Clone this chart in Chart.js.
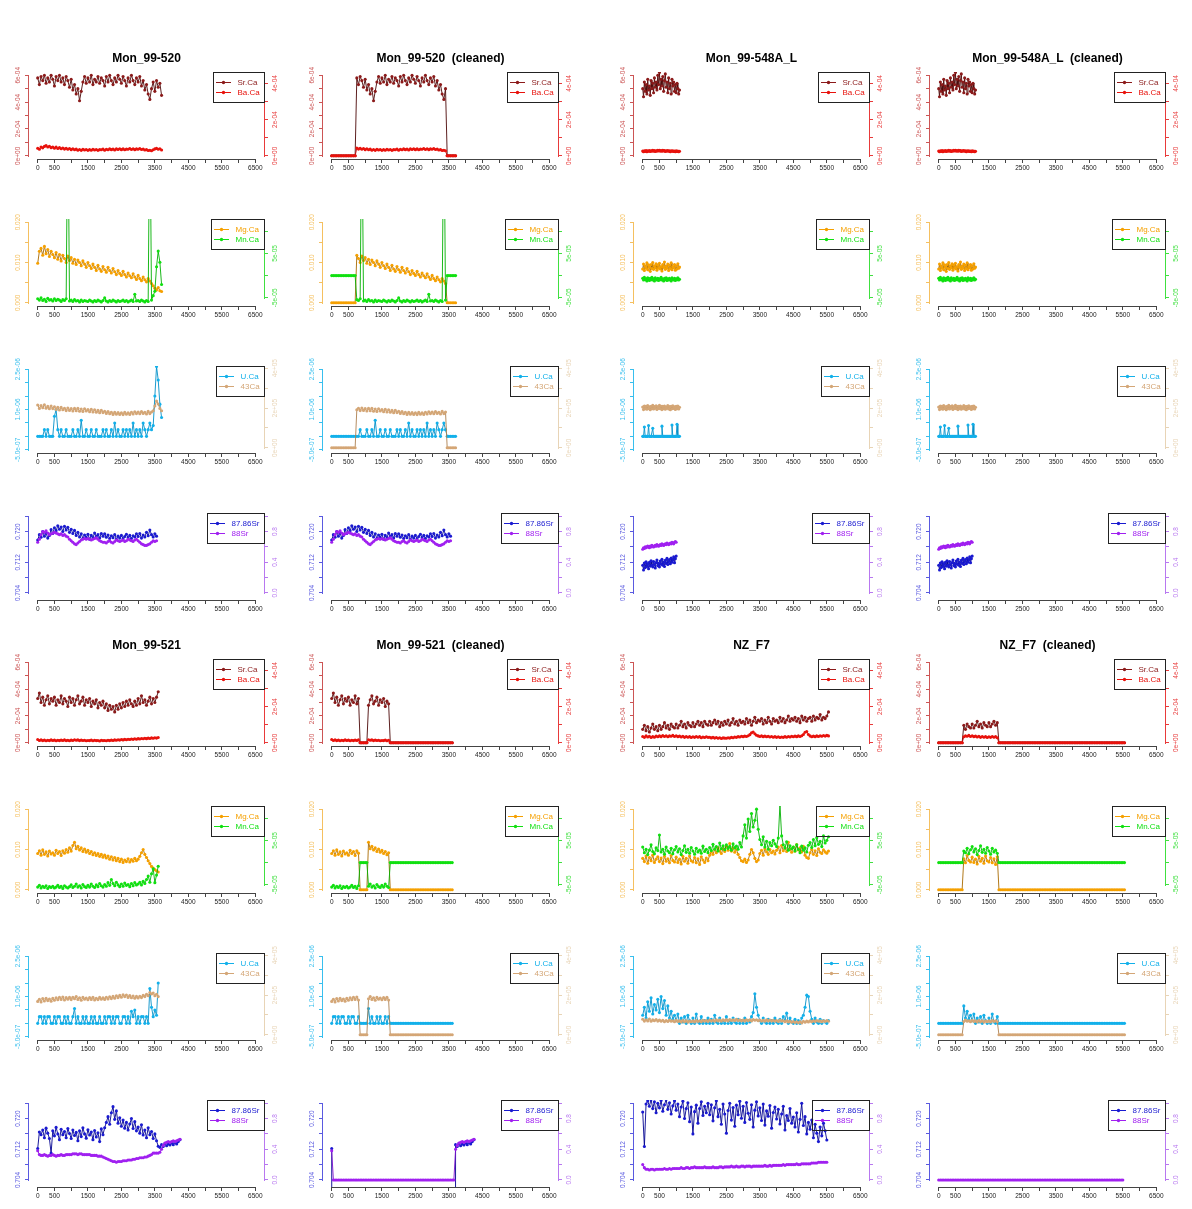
<!DOCTYPE html>
<html>
<head>
<meta charset="utf-8">
<script src="https://cdn.jsdelivr.net/npm/chart.js@4.4.1/dist/chart.umd.min.js"></script>
<style>
  body { margin: 0; background: #fff; width: 1192px; height: 1209px; position: relative; overflow: hidden; }
  canvas { position: absolute; }
  .ttl { position: absolute; width: 235px; height: 14px; line-height: 14px; text-align: center; white-space: pre;
         font: bold 12px "Liberation Sans", Arial, sans-serif; color: #000; }
</style>
</head>
<body>
<script>
// x axis (time) ticks shared by all panels
const X_TICKS = [0, 500, 1000, 1500, 2000, 2500, 3000, 3500, 4000, 4500, 5000, 5500, 6000, 6500];
const X_TICK_LABELS = ['0', '500', '', '1500', '', '2500', '', '3500', '', '4500', '', '5500', '', '6500'];

// y ticks, values in the units the series are stored in
const SRCA_TICKS = [0, 10, 20, 30, 40, 50, 60];            // x1e-5
const SRCA_LABELS = ['0e+00', '', '2e-04', '', '4e-04', '', '6e-04'];
const BACA_TICKS = [0, 10, 20, 30, 40];                    // x1e-5
const BACA_LABELS = ['0e+00', '', '2e-04', '', '4e-04'];
const MGCA_TICKS = [0, 50, 100, 150, 200];                 // x1e-4
const MGCA_LABELS = ['0.000', '', '0.010', '', '0.020'];
const MNCA_TICKS = [-50, 0, 50, 100];                      // x1e-6
const MNCA_LABELS = ['-5e-05', '', '5e-05', ''];
const UCA_TICKS = [-50, 0, 50, 100, 150, 200, 250];        // x1e-8
const UCA_LABELS = ['-5.0e-07', '', '', '1.0e-06', '', '', '2.5e-06'];
const CA43_TICKS = [0, 10, 20, 30, 40];                    // x1e4
const CA43_LABELS = ['0e+00', '', '2e+05', '', '4e+05'];
const SR8786_TICKS = [7040, 7080, 7120, 7160, 7200, 7240]; // x1e-4
const SR8786_LABELS = ['0.704', '', '0.712', '', '0.720', ''];
const SR88_TICKS = [0, 20, 40, 60, 80, 100];               // x0.01
const SR88_LABELS = ['0.0', '', '0.4', '', '0.8', ''];

// sample spacing on the time axis
const STEP_520 = 50;
const STEP_548 = 25;
const STEP_521 = 50;
const STEP_NZ = 50;

// ---- Mon_99-520 ----
const srCa520 = [58,53,59,56,60,54,58,55,60,57, 52,59,56,60,55,58,53,59,56,51, 57,49,53,46,50,41,48,55,59,54,
  58,55,60,53,57,55,59,54,58,56, 52,59,55,60,56,53,58,55,60,57, 54,59,56,52,58,55,60,56,53,58,
  55,59,52,56,49,53,46,42,50,55, 48,56,51,54,45];
const baCa520 = [4.2,3.6,4.8,4.4,5.2,5.6,4.9,5.3,4.5,4.9, 4.2,4.8,4.0,4.5,3.9,4.3,3.7,4.2,3.6,4.0,
  3.4,3.9,3.3,3.7,3.1,3.5,3.0,3.6,3.2,3.5, 3.0,3.4,3.1,3.6,3.2,3.5,3.0,3.4,3.3,3.7,
  3.1,3.6,3.3,3.8,3.4,3.7,3.2,3.8,3.5,3.9, 3.4,3.8,3.3,3.7,3.6,4.0,3.5,3.9,3.4,3.8,
  3.6,4.0,3.5,3.7,3.2,3.4,2.9,3.1,2.8,3.3, 3.8,4.1,3.6,3.9,3.2];
const mgCa520 = [98,128,135,118,140,122,132,115,128,120, 112,125,108,120,104,118,110,100,116,105,
  112,98,108,95,106,100,92,104,96,88, 100,92,85,96,88,80,93,84,78,90, 82,76,88,80,74,85,77,70,80,73,
  68,78,70,64,74,67,62,72,64,58, 68,60,55,64,57,52,60,54,48,42, 36,32,38,30,28];
const mnCa520 = [-52,-55,-50,-56,-53,-58,-51,-55,-54,-57, -52,-56,-53,-55,-58,-54,-56,-52,400,-57,
  -55,-58,-54,-57,-56,-59,-55,-58,-56,-57, -58,-55,-57,-59,-56,-58,-55,-57,-59,-56,
  -50,-57,-59,-56,-58,-55,-57,-59,-56,-58, -57,-55,-58,-56,-59,-57,-55,-58,-42,-57,
  -56,-58,-55,-57,-59,-56,-58,400,-55,-45, -35,20,55,30,-20];
const uCa520 = [0,0,0,0,25,0,25,0,0,0, 75,100,25,0,25,0,0,25,0,0, 0,25,0,0,25,0,60,0,0,25,
  0,0,25,0,0,25,0,0,0,25, 0,25,0,0,25,0,50,0,25,0, 0,25,0,25,0,25,0,50,0,25,
  0,25,0,50,25,0,25,50,25,40, 150,260,210,120,70];
const ca43_520 = [21.5,19.8,21.2,20.1,21.6,19.9,20.8,19.6,21.0,19.7, 20.6,19.3,20.4,19.0,20.3,19.1,19.9,18.7,20.0,18.8,
  19.7,18.5,19.8,18.6,19.9,18.4,19.5,18.3,19.6,18.5, 19.2,18.1,19.4,18.0,19.1,17.9,18.8,17.6,18.9,17.7,
  18.4,17.3,18.2,17.1,17.9,16.8,17.8,16.9,17.7,16.8, 17.6,16.7,17.8,16.9,17.6,16.8,17.9,17.0,18.1,17.2,
  18.0,17.1,18.2,17.3,17.9,17.0,18.3,17.2,18.0,18.6, 21.0,23.5,22.0,19.8,18.6];
const sr8786_520 = [7178,7192,7185,7200,7188,7196,7183,7190,7205,7195, 7210,7202,7215,7206,7212,7200,7214,7204,7211,7198,
  7206,7195,7203,7190,7198,7186,7194,7182,7191,7185, 7193,7180,7190,7184,7196,7187,7192,7183,7195,7188,
  7194,7185,7191,7182,7189,7184,7192,7180,7188,7183, 7190,7181,7187,7193,7184,7190,7182,7189,7186,7194,
  7187,7195,7183,7191,7186,7198,7189,7204,7192,7186, 7194,7188];
const sr88_520 = [66,70,76,80,79,81,78,76,77,78, 79,78,77,76,77,75,76,74,73,70, 68,66,64,63,65,67,69,70,71,70,
  71,70,69,70,71,72,70,68,67,66, 66,65,67,68,66,65,67,69,68,67, 68,69,67,68,70,69,68,67,69,70,
  68,66,64,63,62,62,63,64,66,68, 67,68];

// ---- Mon_99-548A_L ----
const srCa548 = [50,44,55,48,53,46,57,49,52,45, 56,50,54,47,58,51,55,49,60,53, 62,50,57,52,59,48,56,61,51,55,
  47,58,50,54,46,57,52,55,48,53, 47,54,50,46,49];
const baCa548 = [2.6,2.2,2.8,2.4,2.9,2.3,2.7,2.5,2.9,2.4, 2.8,2.6,3.0,2.5,2.9,2.4,2.8,2.6,3.1,2.7,
  3.0,2.6,2.9,2.5,3.0,2.7,2.9,2.4,2.8,2.6, 2.9,2.5,2.7,2.3,2.8,2.5,2.7,2.4,2.6,2.3, 2.7,2.4,2.6,2.2,2.5];
const mgCa548 = [84,96,80,92,86,99,82,94,88,78, 95,85,100,83,92,87,97,81,93,86, 98,84,90,79,95,88,101,83,91,86,
  96,80,93,85,99,82,90,87,95,81, 92,84,97,86,89];
const mnCa548 = [-6,-10,-4,-9,-7,-12,-5,-8,-11,-6, -9,-4,-10,-7,-12,-5,-8,-10,-6,-11, -7,-9,-4,-10,-8,-12,-6,-9,-5,-11,
  -7,-10,-6,-9,-12,-5,-8,-10,-6,-11, -7,-9,-5,-10,-8];
const uCa548 = [0,0,35,0,0,0,0,40,0,0, 0,0,30,0,0,0,0,0,0,0, 0,0,0,38,0,0,0,0,0,0, 0,0,0,0,0,42,0,0,0,0, 0,45,0,0,0];
const ca43_548 = [20.5,19.2,21.0,19.6,20.8,19.4,21.2,19.8,20.6,19.1, 20.9,19.7,21.3,19.5,20.7,19.9,21.1,19.3,20.6,19.8,
  21.4,19.6,20.9,19.2,20.8,19.7,21.0,19.4,20.5,19.9, 21.2,19.5,20.7,19.1,20.9,19.6,21.1,19.8,20.6,19.3,
  20.8,19.7,21.0,19.5,20.4];
const sr8786_548 = [7112,7100,7118,7106,7121,7109,7115,7103,7120,7110, 7124,7112,7108,7122,7114,7105,7119,7126,7111,7117,
  7108,7123,7115,7128,7112,7120,7109,7125,7117,7130, 7114,7122,7127,7116,7131,7120,7126,7134,7119,7129, 7136];
const sr88_548 = [57,59,58,60,59,60,61,60,59,61, 60,62,61,60,61,62,61,63,62,61, 62,63,62,64,63,62,63,64,63,65,
  64,63,64,65,64,66,65,64,66,67, 66];

// ---- Mon_99-521 ----
const srCa521 = [33,37,30,34,28,32,35,29,33,31, 34,28,32,30,35,29,33,31,27,34, 30,33,28,32,35,29,31,34,28,32,
  30,33,27,31,29,32,26,30,28,31, 26,29,24,28,25,27,23,28,25,29, 26,30,27,31,28,32,29,27,31,28,
  33,29,35,30,32,28,31,34,29,33, 30,34,38];
const baCa521 = [1.8,1.3,1.6,1.2,1.5,1.1,1.4,1.2,1.6,1.3, 1.5,1.1,1.4,1.2,1.5,1.3,1.6,1.2,1.4,1.1,
  1.5,1.3,1.7,1.4,1.6,1.2,1.5,1.3,1.4,1.1, 1.3,1.2,1.5,1.1,1.4,1.2,1.3,1.0,1.4,1.2,
  1.3,1.1,1.4,1.2,1.5,1.3,1.6,1.4,1.7,1.5, 1.8,1.6,1.9,1.7,2.0,1.8,2.1,1.9,2.2,2.0,
  2.3,2.1,2.4,2.2,2.5,2.3,2.6,2.4,2.7,2.5, 2.8,2.6,2.9];
const mgCa521 = [90,97,86,99,88,94,84,96,89,92, 86,98,90,95,85,97,91,100,93,104, 96,110,118,102,108,99,104,95,101,93,
  98,90,95,87,92,85,90,83,88,81, 86,79,84,76,82,74,80,72,78,70, 76,68,74,70,77,69,75,71,78,72,
  76,83,92,100,88,80,72,65,58,54, 50,47,44];
const mnCa521 = [-55,-51,-57,-53,-56,-52,-58,-54,-56,-53, -57,-55,-51,-56,-53,-58,-52,-55,-57,-54,
  -50,-56,-53,-48,-55,-52,-57,-49,-54,-56, -51,-55,-48,-53,-56,-50,-54,-47,-52,-55,
  -49,-53,-45,-51,-38,-47,-52,-44,-50,-54, -48,-53,-46,-51,-49,-54,-47,-52,-45,-50,
  -48,-44,-50,-42,-47,-38,-30,-44,-25,-14, -45,-28,-8];
const uCa521 = [0,25,25,0,25,0,25,25,0,0, 25,0,25,25,0,0,25,0,25,0, 0,25,55,0,25,0,0,25,0,25,
  0,0,25,0,25,0,0,25,0,0, 25,0,25,25,0,25,0,25,25,0, 0,25,25,0,25,0,45,25,50,0,
  25,0,25,25,0,25,0,130,60,25, 50,30,150];
const ca43_521 = [16.8,17.9,16.5,18.2,17.0,18.4,17.2,18.0,16.9,18.3, 17.4,18.6,17.6,18.9,17.8,19.0,17.5,18.7,17.9,18.8,
  17.7,18.9,18.1,19.2,17.8,18.6,17.4,18.8,17.9,18.5, 17.6,18.7,17.8,18.9,17.5,18.4,17.7,18.8,17.9,18.6,
  17.8,18.9,18.0,19.1,18.2,19.3,18.4,19.6,18.7,19.8, 18.9,20.1,19.2,20.0,18.8,19.7,18.6,19.5,18.4,19.3,
  18.5,19.4,18.7,19.8,19.2,20.4,19.6,21.2,20.5,21.0, 19.6,20.4,19.2];
const sr8786_521 = [7122,7165,7158,7170,7150,7175,7162,7148,7110,7168, 7155,7177,7160,7145,7172,7158,7166,7150,7174,7161,
  7148,7170,7156,7164,7142,7168,7153,7176,7160,7149, 7171,7157,7165,7145,7169,7152,7163,7140,7173,7158,
  7176,7190,7205,7185,7215,7231,7198,7220,7188,7202, 7180,7196,7175,7190,7170,7186,7200,7174,7192,7168,
  7178,7162,7184,7157,7170,7150,7176,7158,7166,7148, 7160,7142,7128,7125,7132,7127,7135,7129,7134,7131,
  7136,7132,7138,7134,7140,7145];
const sr88_521 = [38,33,32,32,33,32,31,32,32,33, 32,31,32,32,33,32,32,33,33,33, 33,34,34,34,33,34,34,33,33,33,
  33,33,32,32,32,32,31,31,31,30, 29,28,27,26,25,24,24,23,24,24, 24,25,25,25,26,26,26,27,27,28,
  28,29,29,29,30,30,31,32,33,35, 35,35,35,36,40,45,48,49,50,49, 50,51,50,51,52,53];

// ---- NZ_F7 ----
const srCaNZ = [10,13,9,12,8,11,14,10,12,9, 13,10,12,15,11,13,10,14,12,11, 14,11,13,16,12,14,11,15,13,12,
  15,12,14,16,13,15,12,16,14,13, 16,13,15,17,14,16,12,15,13,16, 14,17,13,15,18,14,16,13,17,15,
  16,14,18,15,17,13,16,19,15,17, 16,18,14,17,15,19,16,14,18,16, 17,15,19,16,18,15,17,20,16,18,
  17,19,16,18,15,20,17,19,16,18, 19,16,20,17,19,18,21,17,19,18, 20,23];
const baCaNZ = [3.5,3.0,3.8,3.2,3.6,2.9,3.4,3.1,3.7,3.3, 3.8,3.4,4.0,3.5,3.9,3.3,3.8,3.6,4.1,3.5,
  3.9,3.4,3.7,3.2,3.6,3.0,3.5,3.1,3.4,2.9, 3.3,3.0,3.5,3.1,3.4,2.8,3.2,2.9,3.3,3.0,
  3.1,2.7,3.0,2.6,2.9,2.5,2.8,2.4,2.7,2.6, 2.5,2.8,2.6,3.0,2.8,3.2,3.0,3.4,3.2,3.6,
  3.4,3.7,3.5,3.9,4.5,5.5,6.0,5.0,4.2,3.8, 3.5,3.8,3.4,3.7,3.3,3.6,3.2,3.5,3.1,3.4,
  3.0,3.3,2.9,3.2,3.0,3.4,3.1,3.5,3.2,3.6, 3.3,3.7,3.4,3.8,3.5,3.9,4.6,5.8,6.2,4.6,
  3.8,3.3,3.7,3.4,3.8,3.5,3.9,3.6,4.0,3.7, 4.1,3.8];
const mgCaNZ = [78,70,84,66,80,72,86,68,76,82, 70,79,65,83,71,77,67,85,73,69, 81,68,76,64,83,71,78,66,84,72,
  69,80,67,77,63,82,74,68,79,72, 86,94,88,100,92,104,96,90,102,95, 108,98,115,96,104,93,100,88,80,72,
  70,76,68,74,88,100,92,78,70,74, 90,98,86,102,94,88,100,92,96,89, 98,106,92,110,97,104,95,118,100,93,
  106,96,112,99,104,94,108,86,80,78, 92,100,88,97,85,102,93,90,99,94, 91,96];
const mnCaNZ = [35,22,30,18,28,40,25,20,33,27, 62,24,30,19,35,26,22,32,20,29, 36,24,31,18,27,38,23,30,21,34,
  26,19,32,24,28,21,37,25,30,22, 34,27,41,30,36,26,44,31,38,29, 40,32,36,28,42,33,37,30,45,35,
  60,85,55,98,70,110,80,95,120,75, 52,40,58,35,48,30,45,38,50,42, 36,55,130,60,40,33,47,28,38,31,
  35,26,40,30,22,37,28,33,24,39, 45,34,52,38,56,41,48,36,60,44, 50,58];
const uCaNZ = [30,60,20,80,45,95,35,70,50,90, 40,100,55,85,30,65,20,45,15,30, 10,35,0,20,5,25,0,30,10,0,
  20,0,35,5,0,25,0,10,0,20, 0,15,0,30,5,0,20,0,10,0, 25,0,10,0,20,5,0,15,0,10,
  0,20,0,10,5,25,40,110,60,30, 10,0,20,5,0,15,0,10,0,20, 5,0,15,0,25,10,38,0,20,5,
  0,15,0,10,0,20,30,60,105,100, 45,15,0,20,5,0,15,0,10,5, 0,10];
const ca43NZ = [7.8,6.9,7.6,7.0,7.9,6.8,7.5,7.1,7.7,6.9, 7.4,6.8,7.3,6.6,7.2,6.7,7.4,6.8,7.1,6.6,
  7.3,6.7,7.0,6.5,7.2,6.6,7.1,6.4,6.9,6.6, 7.0,6.5,7.2,6.7,7.1,6.6,7.3,6.8,7.2,6.7,
  7.4,6.9,7.3,6.8,7.5,7.0,7.4,6.9,7.6,7.1, 7.5,7.0,7.7,7.2,7.6,7.1,7.8,7.2,7.5,7.0,
  7.4,6.9,7.6,7.1,7.5,7.0,7.7,7.3,7.6,7.1, 7.4,6.9,7.3,6.8,7.5,7.0,7.4,6.9,7.3,6.8,
  7.2,6.7,7.4,6.9,7.1,6.6,7.0,6.5,6.8,6.3, 6.7,6.2,6.6,6.1,6.5,6.0,6.8,6.3,6.9,6.5,
  7.0,6.6,7.1,6.7,7.2,6.8,7.0,6.6,7.1,6.7, 7.2,6.8];
const sr8786NZ = [7217,7127,7238,7246,7232,7250,7226,7244,7215,7240, 7228,7247,7219,7236,7250,7224,7241,7212,7233,7246,
  7222,7238,7205,7230,7245,7200,7226,7241,7192,7230, 7160,7218,7235,7188,7226,7244,7208,7232,7215,7240,
  7210,7236,7194,7228,7246,7205,7224,7185,7238,7212, 7162,7221,7240,7196,7229,7180,7235,7210,7245,7201,
  7232,7190,7242,7214,7198,7236,7178,7222,7244,7207, 7228,7195,7238,7183,7220,7206,7234,7175,7216,7230,
  7199,7224,7186,7212,7232,7170,7208,7195,7226,7188, 7204,7178,7215,7165,7198,7240,7182,7205,7160,7190,
  7172,7196,7150,7185,7162,7140,7178,7155,7188,7168, 7144];
const sr88NZ = [20,16,14,14,13,14,14,13,14,14, 14,14,14,15,14,14,15,14,15,15, 15,15,15,16,15,15,16,16,15,16,
  16,17,16,16,16,16,16,17,16,16, 16,16,17,16,16,16,17,17,16,17, 17,17,17,18,17,17,18,17,17,18,
  18,17,18,18,18,17,18,18,18,18, 18,18,18,19,18,18,19,18,19,19, 19,19,19,19,20,19,20,20,20,20,
  20,20,21,20,20,21,21,21,21,21, 21,22,22,22,22,23,23,23,23,23, 23];

// time windows kept by the cleaning step (everything else set to 0)
const KEEP_520 = [[750, 3420]];
const KEEP_521 = [[0, 820], [1080, 1720]];
const KEEP_521_ISO = [[0, 0], [3700, 4250]];
const KEEP_NZ = [[730, 1770]];
const KEEP_NZ_ISO = [];
const CLEAN_FILL = 0;

// ---------------------------------------------------------------
const FONT = '"Liberation Sans", Arial, Helvetica, sans-serif';
Chart.defaults.font.family = FONT;

const ROW_TYPES = [
  { names: ['Sr.Ca', 'Ba.Ca'], point: ['#8b1a1a', '#e8120c'], line: ['#4b0707', '#c40000'], axis: ['#cc5555', '#e83a3a'],
    left: { min: -2.4, max: 62.4, ticks: SRCA_TICKS, labels: SRCA_LABELS },
    right: { min: -1.77, max: 46.3, ticks: BACA_TICKS, labels: BACA_LABELS } },
  { names: ['Mg.Ca', 'Mn.Ca'], point: ['#f5a000', '#10e010'], line: ['#a86a00', '#00b000'], axis: ['#f5c060', '#40e040'],
    left: { min: -8, max: 208, ticks: MGCA_TICKS, labels: MGCA_LABELS },
    right: { min: -68.2, max: 127.1, ticks: MNCA_TICKS, labels: MNCA_LABELS } },
  { names: ['U.Ca', '43Ca'], point: ['#12b0ea', '#d4a676'], line: ['#0090c8', '#ad8050'], axis: ['#38bfee', '#e8d4b6'],
    left: { min: -62, max: 262, ticks: UCA_TICKS, labels: UCA_LABELS },
    right: { min: -2.6, max: 41.1, ticks: CA43_TICKS, labels: CA43_LABELS } },
  { names: ['87.86Sr', '88Sr'], point: ['#1a1ad0', '#a020f0'], line: ['#000090', '#8010d0'], axis: ['#5a5ae0', '#b878f0'],
    left: { min: 7021.6, max: 7248.4, ticks: SR8786_TICKS, labels: SR8786_LABELS },
    right: { min: -9.2, max: 104.2, ticks: SR88_TICKS, labels: SR88_LABELS } }
];

const S520 = { step: STEP_520, rows: [[srCa520, baCa520], [mgCa520, mnCa520], [uCa520, ca43_520], [sr8786_520, sr88_520]] };
const S548 = { step: STEP_548, rows: [[srCa548, baCa548], [mgCa548, mnCa548], [uCa548, ca43_548], [sr8786_548, sr88_548]] };
const S521 = { step: STEP_521, rows: [[srCa521, baCa521], [mgCa521, mnCa521], [uCa521, ca43_521], [sr8786_521, sr88_521]] };
const SNZ = { step: STEP_NZ, rows: [[srCaNZ, baCaNZ], [mgCaNZ, mnCaNZ], [uCaNZ, ca43NZ], [sr8786NZ, sr88NZ]] };

const PANELS = [
  { col: 0, block: 0, sample: S520, title: 'Mon_99-520', keep: null, keepIso: null },
  { col: 1, block: 0, sample: S520, title: 'Mon_99-520  (cleaned)', keep: KEEP_520, keepIso: null },
  { col: 2, block: 0, sample: S548, title: 'Mon_99-548A_L', keep: null, keepIso: null },
  { col: 3, block: 0, sample: S548, title: 'Mon_99-548A_L  (cleaned)', keep: null, keepIso: null },
  { col: 0, block: 1, sample: S521, title: 'Mon_99-521', keep: null, keepIso: null },
  { col: 1, block: 1, sample: S521, title: 'Mon_99-521  (cleaned)', keep: KEEP_521, keepIso: KEEP_521_ISO },
  { col: 2, block: 1, sample: SNZ, title: 'NZ_F7', keep: null, keepIso: null },
  { col: 3, block: 1, sample: SNZ, title: 'NZ_F7  (cleaned)', keep: KEEP_NZ, keepIso: KEEP_NZ_ISO }
];

// page layout: left / top edge of each plot region
const COL_LEFT = [29, 323, 634, 930];
const ROW_TOP = [72, 219, 366, 513, 659, 806, 953, 1100];
const AREA_W = 235, AREA_H = 87, AXIS_W = 30, XAXIS_H = 22, PAD_TOP = 8;

function toPoints(values, step, keep) {
  return values.map((v, i) => {
    const x = i * step;
    const kept = !keep || keep.some(([a, b]) => x >= a && x <= b);
    return { x: x, y: kept ? v : CLEAN_FILL };
  });
}

// R-like axis lines, rotated y labels and the boxed legend
function rPanel(type) {
  return {
    id: 'rPanel',
    afterDraw(chart) {
      const { ctx, chartArea: a, scales } = chart;
      ctx.save();
      ctx.lineWidth = 1;
      ctx.strokeStyle = '#444';
      const xa = Math.round(scales.x.getPixelForValue(X_TICKS[0]));
      const xb = Math.round(scales.x.getPixelForValue(X_TICKS[X_TICKS.length - 1]));
      ctx.beginPath();
      ctx.moveTo(xa, a.bottom + 0.5);
      ctx.lineTo(xb + 1, a.bottom + 0.5);
      ctx.stroke();

      [['y', type.left, a.left - 0.5, -1, type.axis[0]], ['y1', type.right, a.right + 0.5, 1, type.axis[1]]]
        .forEach(([id, ax, edge, dir, color]) => {
          const s = scales[id];
          const yTop = Math.round(s.getPixelForValue(ax.ticks[ax.ticks.length - 1]));
          const yBot = Math.round(s.getPixelForValue(ax.ticks[0]));
          ctx.strokeStyle = color;
          ctx.beginPath();
          ctx.moveTo(edge, yTop);
          ctx.lineTo(edge, yBot + 1);
          ctx.stroke();
          ctx.fillStyle = color;
          ctx.font = '6.5px ' + FONT;
          ctx.textAlign = 'center';
          ctx.textBaseline = 'middle';
          ax.ticks.forEach((v, i) => {
            if (!ax.labels[i]) return;
            ctx.save();
            ctx.translate(edge + dir * 10.5, s.getPixelForValue(v));
            ctx.rotate(-Math.PI / 2);
            ctx.fillText(ax.labels[i], 0, 0);
            ctx.restore();
          });
        });

      // legend, top right of the plot region
      ctx.font = '8px ' + FONT;
      const tw = Math.max(...type.names.map(n => ctx.measureText(n).width));
      const w = Math.round(tw + 29), h = 30;
      const bx = Math.round(a.right) - w, by = Math.round(a.top);
      ctx.strokeStyle = '#222';
      ctx.strokeRect(bx + 0.5, by + 0.5, w, h);
      type.names.forEach((n, k) => {
        const yy = by + 10.5 + 10 * k;
        ctx.strokeStyle = type.point[k];
        ctx.beginPath();
        ctx.moveTo(bx + 3, yy);
        ctx.lineTo(bx + 18, yy);
        ctx.stroke();
        ctx.fillStyle = type.point[k];
        ctx.beginPath();
        ctx.arc(bx + 10.5, yy, 1.7, 0, Math.PI * 2);
        ctx.fill();
        ctx.textAlign = 'left';
        ctx.textBaseline = 'middle';
        ctx.fillText(n, bx + 24.5, yy);
      });
      ctx.restore();
    }
  };
}

function yScale(ax, color, position) {
  return {
    type: 'linear', position: position, min: ax.min, max: ax.max,
    afterBuildTicks: s => { s.ticks = ax.ticks.map(v => ({ value: v })); },
    afterFit: s => { s.width = AXIS_W; },
    border: { display: false },
    grid: { drawOnChartArea: false, drawTicks: true, tickLength: 4, color: color, lineWidth: 1 },
    ticks: { display: false }
  };
}

PANELS.forEach(p => {
  p.sample.rows.forEach((pair, r) => {
    const type = ROW_TYPES[r];
    const row = p.block * 4 + r;
    const left = COL_LEFT[p.col], top = ROW_TOP[row];
    const keep = r === 3 ? p.keepIso : p.keep;

    const cv = document.createElement('canvas');
    cv.width = AREA_W + 2 * AXIS_W;
    cv.height = AREA_H + PAD_TOP + XAXIS_H;
    cv.style.left = (left - AXIS_W) + 'px';
    cv.style.top = (top - PAD_TOP) + 'px';
    document.body.appendChild(cv);

    if (r === 0) {
      const t = document.createElement('div');
      t.className = 'ttl';
      t.textContent = p.title;
      t.style.left = left + 'px';
      t.style.top = (top - 21) + 'px';
      document.body.appendChild(t);
    }

    new Chart(cv, {
      type: 'line',
      data: {
        datasets: [0, 1].map(k => ({
          label: type.names[k],
          data: toPoints(pair[k], p.sample.step, keep),
          yAxisID: k === 0 ? 'y' : 'y1',
          borderColor: type.line[k],
          borderWidth: 0.9,
          pointRadius: 1.55,
          pointBackgroundColor: type.point[k],
          pointBorderWidth: 0,
          pointHoverRadius: 0,
          tension: 0,
          order: 1 - k
        }))
      },
      options: {
        responsive: false,
        animation: false,
        events: [],
        devicePixelRatio: 1,
        layout: { padding: { top: PAD_TOP, left: 0, right: 0, bottom: 0 } },
        plugins: { legend: { display: false }, tooltip: { enabled: false } },
        scales: {
          x: {
            type: 'linear', min: -260, max: 6760,
            afterBuildTicks: s => { s.ticks = X_TICKS.map(v => ({ value: v })); },
            afterFit: s => { s.height = XAXIS_H; },
            border: { display: false },
            grid: { drawOnChartArea: false, drawTicks: true, tickLength: 4, color: '#444', lineWidth: 1 },
            ticks: { autoSkip: false, maxRotation: 0, minRotation: 0, padding: 1, color: '#222',
                     font: { size: 6.5 }, callback: (v, i) => X_TICK_LABELS[i] }
          },
          y: yScale(type.left, type.axis[0], 'left'),
          y1: yScale(type.right, type.axis[1], 'right')
        }
      },
      plugins: [rPanel(type)]
    });
  });
});
</script>
</body>
</html>
